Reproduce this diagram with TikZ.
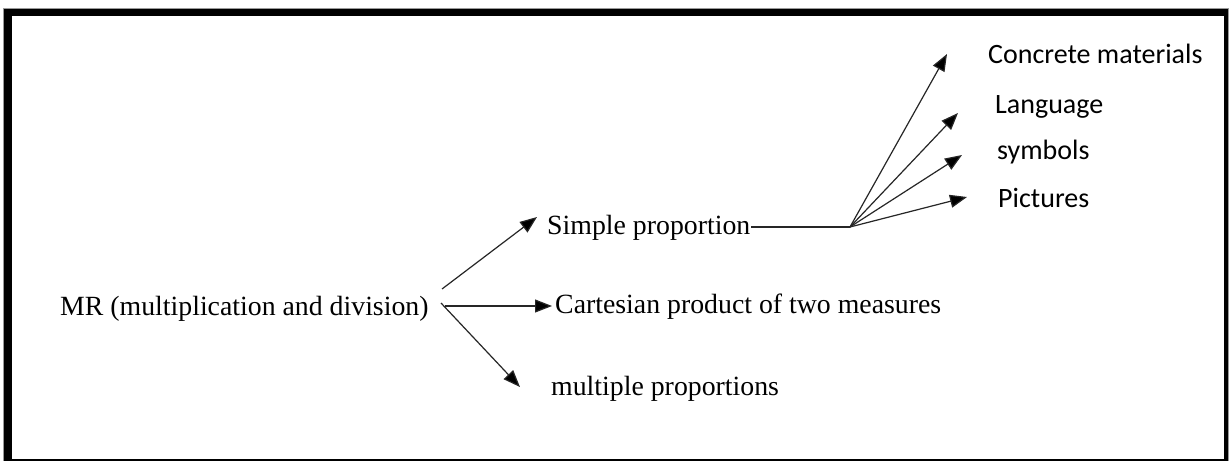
\documentclass[tikz,border=0pt]{standalone}
\usepackage{fontspec}
\setmainfont{Liberation Serif}
\newfontfamily\calfont{Carlito}
\usetikzlibrary{arrows.meta}
\tikzset{
  lbl/.style={anchor=base west, inner sep=0pt, font=\fontsize{27.8}{33}\selectfont},
  clbl/.style={anchor=base west, inner sep=0pt, font=\calfont\fontsize{28}{33}\selectfont},
  conn/.style={line width=1.2pt, draw=black!85, -{Triangle[length=17pt,width=13pt,fill=black]}},
  plain/.style={line width=1.2pt, draw=black!85},
}
\begin{document}
\begin{tikzpicture}[x=1pt,y=-1pt]
\useasboundingbox (0,0) rectangle (1230,461);
% frame
\fill[black!40] (3,8) rectangle (1229,461);
\fill[black] (4,9) rectangle (1228,461);
\fill[white] (12,16) rectangle (1224,459);
% texts
\node[lbl] (mr) at (60,315) {MR (multiplication and division)};
\node[lbl] (sp) at (547,234) {Simple proportion};
\node[lbl] (cp) at (555,313) {Cartesian product of two measures};
\node[lbl] (mp) at (551,395) {multiple proportions};
\node[clbl] (cm) at (988,63) {Concrete materials};
\node[clbl] (la) at (995,113) {Language};
\node[clbl] (sy) at (997,159) {symbols};
\node[clbl] (pi) at (998,207) {Pictures};
% connector points
\coordinate (mrU) at (442,289);
\coordinate (mrM) at (445,306);
\coordinate (mrL) at (441,303);
\coordinate (spT) at (537,217);
\coordinate (cpT) at (552,306);
\coordinate (mpT) at (520,387);
\coordinate (spE) at (751,227);
\coordinate (hub) at (850,227);
\coordinate (cmT) at (947,54);
\coordinate (laT) at (958,113);
\coordinate (syT) at (962,155);
\coordinate (piT) at (967,197);
% connectors
\draw[conn] (mrU) -- (spT);
\draw[conn] (mrM) -- (cpT);
\draw[conn] (mrL) -- (mpT);
\draw[plain] (spE) -- (hub);
\draw[conn] (hub) -- (cmT);
\draw[conn] (hub) -- (laT);
\draw[conn] (hub) -- (syT);
\draw[conn] (hub) -- (piT);
\end{tikzpicture}
\end{document}
